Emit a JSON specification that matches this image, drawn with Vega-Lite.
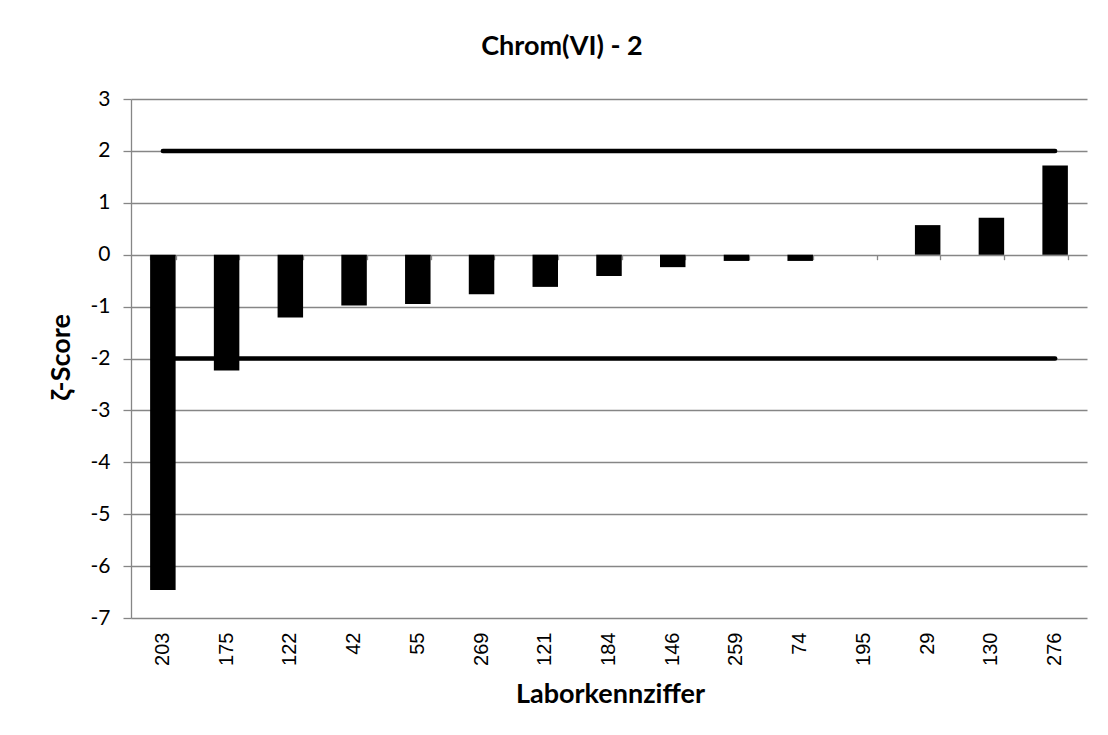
{
  "$schema": "https://vega.github.io/schema/vega-lite/v6.json",
  "autosize": {"type": "none"},
  "padding": {"left": 131, "top": 99, "right": 21, "bottom": 117},
  "width": 956,
  "height": 519,
  "background": "white",
  "title": {"text": "Chrom(VI) - 2", "font": "Lato", "fontSize": 27, "fontWeight": "bold", "color": "#000000", "anchor": "middle", "dx": -47, "offset": 27},
  "datasets": {
    "scores": [
      {"lab": "203", "z": -6.46},
      {"lab": "175", "z": -2.23},
      {"lab": "122", "z": -1.21},
      {"lab": "42", "z": -0.98},
      {"lab": "55", "z": -0.95},
      {"lab": "269", "z": -0.76},
      {"lab": "121", "z": -0.62},
      {"lab": "184", "z": -0.41},
      {"lab": "146", "z": -0.24},
      {"lab": "259", "z": -0.12},
      {"lab": "74", "z": -0.12},
      {"lab": "195", "z": 0},
      {"lab": "29", "z": 0.57},
      {"lab": "130", "z": 0.71},
      {"lab": "276", "z": 1.72}
    ],
    "limits": [
      {"lab": "203", "z": 2, "grp": "upper"},
      {"lab": "276", "z": 2, "grp": "upper"},
      {"lab": "203", "z": -2, "grp": "lower"},
      {"lab": "276", "z": -2, "grp": "lower"}
    ]
  },
  "resolve": {"axis": {"x": "independent"}},
  "layer": [
    {
      "data": {"name": "scores"},
      "mark": {"type": "bar", "color": "#000000"},
      "encoding": {
        "x": {
          "field": "lab", "type": "nominal",
          "scale": {"domain": ["203","175","122","42","55","269","121","184","146","259","74","195","29","130","276"], "paddingInner": 0.6, "paddingOuter": 0.3},
          "axis": {
            "title": "Laborkennziffer", "titleFont": "Lato", "titleFontSize": 27, "titleFontWeight": "bold", "titleColor": "#000000",
            "titleX": 479, "titleY": 76, "titleBaseline": "middle",
            "labelAngle": -90, "labelFont": "Liberation Sans", "labelFontSize": 20, "labelColor": "#000000", "labelPadding": 14,
            "ticks": false, "domain": false, "grid": false
          }
        },
        "y": {
          "field": "z", "type": "quantitative",
          "scale": {"domain": [-7, 3], "nice": false, "zero": false},
          "axis": {
            "title": "ζ-Score", "titleFont": "Lato", "titleFontSize": 27, "titleFontWeight": "bold", "titleColor": "#000000",
            "titleX": -70, "titleY": 258, "titleAngle": -90, "titleBaseline": "middle", "titleAlign": "center",
            "values": [-7,-6,-5,-4,-3,-2,-1,0,1,2,3],
            "labelExpr": "'' + datum.value",
            "labelFont": "Lato", "labelFontSize": 21, "labelColor": "#000000", "labelPadding": 13,
            "tickSize": 8, "tickColor": "#868686", "tickWidth": 1.3,
            "domain": true, "domainColor": "#868686", "domainWidth": 1.3,
            "grid": true, "gridColor": "#868686", "gridWidth": 1.3
          }
        }
      }
    },
    {
      "data": {"name": "limits"},
      "mark": {"type": "line", "color": "#000000", "strokeWidth": 4.5, "strokeCap": "round"},
      "encoding": {
        "x": {
          "field": "lab", "type": "nominal",
          "axis": {
            "title": null, "labels": false, "grid": false, "offset": -363.3, "orient": "bottom",
            "domain": false, "ticks": true, "tickSize": 5, "tickColor": "#868686", "tickWidth": 1.3, "tickBand": "extent"
          }
        },
        "y": {"field": "z", "type": "quantitative"},
        "detail": {"field": "grp", "type": "nominal"}
      }
    }
  ],
  "config": {"view": {"stroke": null}}
}
